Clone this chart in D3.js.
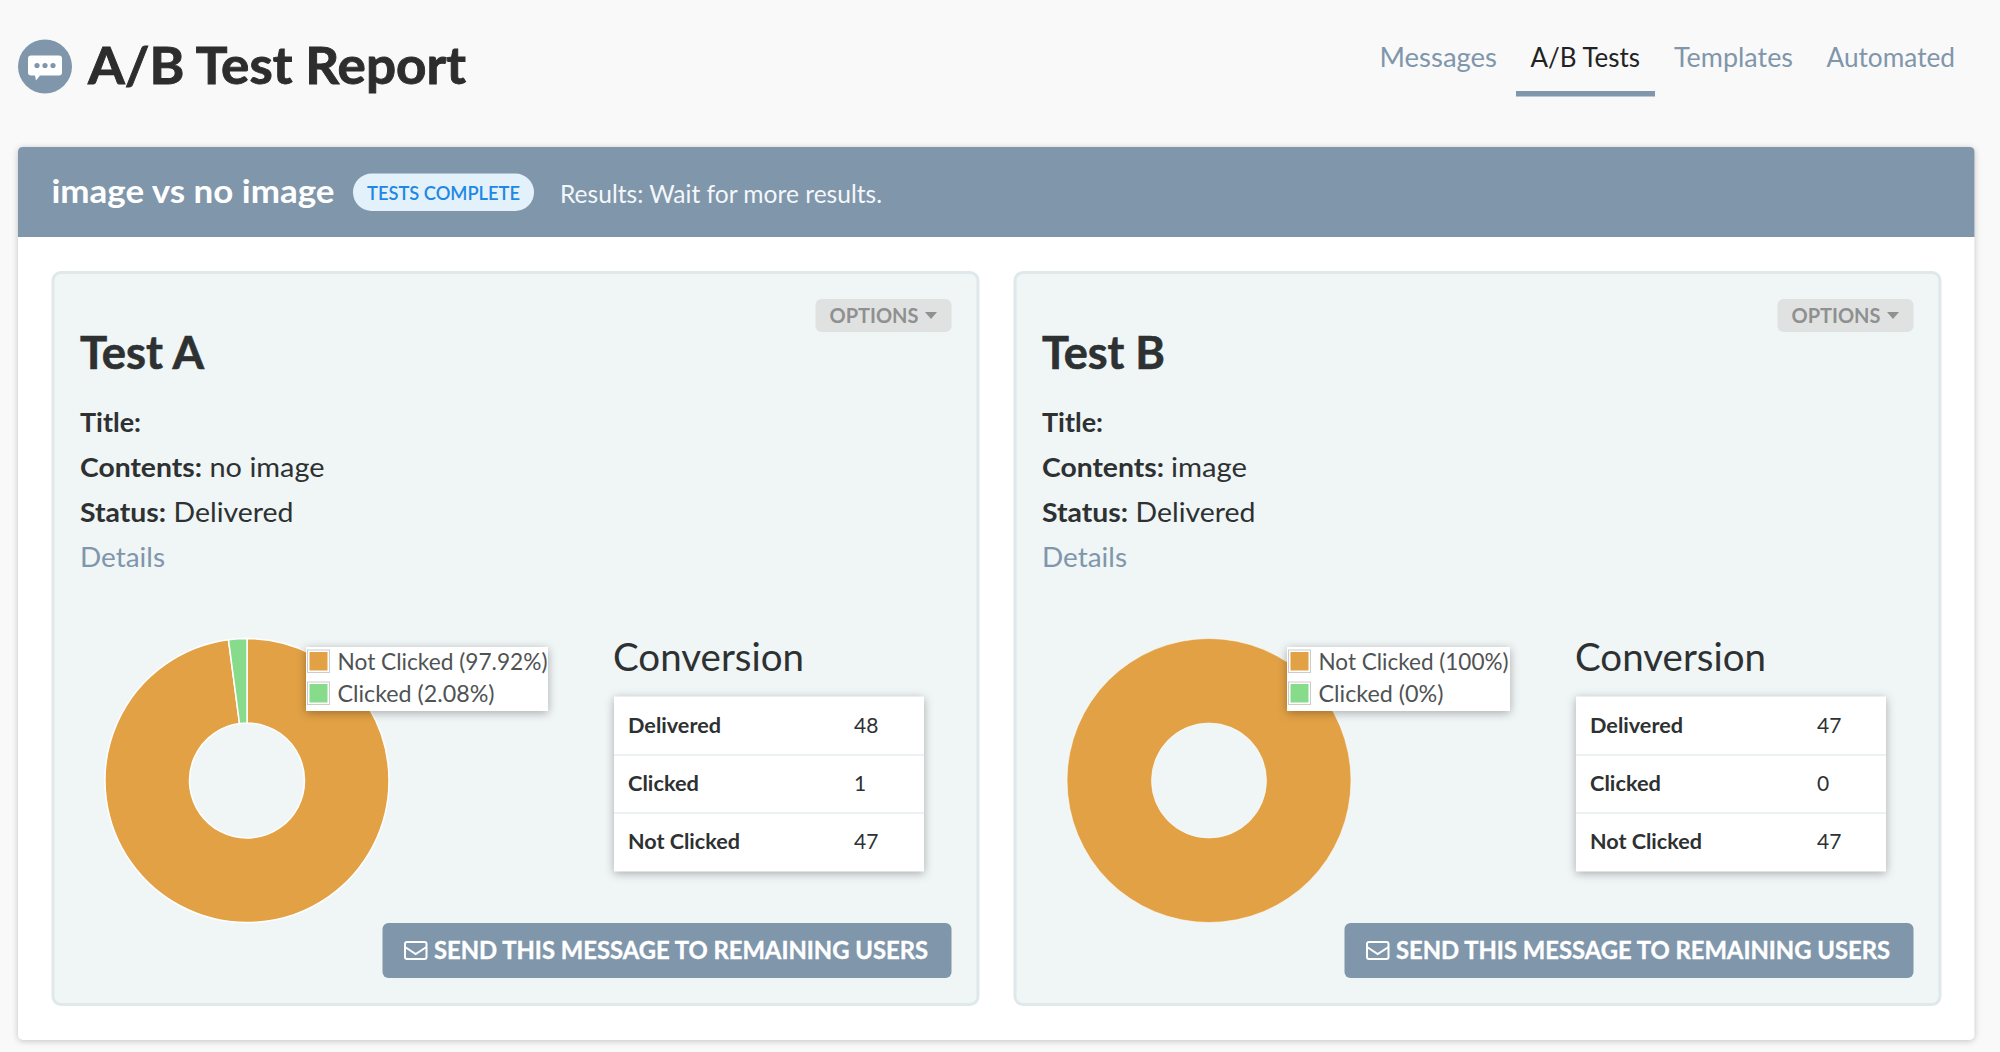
<!DOCTYPE html>
<html>
<head>
<meta charset="utf-8">
<title>A/B Test Report</title>
<script src="https://cdnjs.cloudflare.com/ajax/libs/d3/7.8.5/d3.min.js"></script>
<style>
  html, body { margin: 0; padding: 0; background: #f9f9f9; overflow: hidden; }
  svg { display: block; font-family: Lato, "Open Sans", sans-serif; }
  .lifted { filter: drop-shadow(0 1px 3px rgba(0,0,0,0.22)); }
  .lifted-big { filter: drop-shadow(0 2px 5px rgba(0,0,0,0.3)); }
</style>
</head>
<body>
<svg id="chart" width="2000" height="1052"></svg>
<script>
var navItems = ["Messages", "A/B Tests", "Templates", "Automated"];
var activeNav = "A/B Tests";
var testNames = ["Test A", "Test B"];
var testContents = ["no image", "image"];
var testStatus = ["Delivered", "Delivered"];
var sliceLabels = ["Not Clicked", "Clicked"];
var sliceColors = ["#e2a145", "#86dc8b"];
var notClicked = [47, 47];
var clicked = [1, 0];
var delivered = [48, 47];
var rowLabels = ["Delivered", "Clicked", "Not Clicked"];

var steel = "#7f96ab";
var dark = "#2e3132";
var svg = d3.select("#chart");

// text helper, fit is optional width in px
function put(g, str, x, y, size, weight, fill, fit, anchor) {
  var t = g.append("text")
    .attr("x", x).attr("y", y)
    .attr("font-size", size)
    .attr("font-weight", weight)
    .attr("fill", fill)
    .attr("text-anchor", anchor || "start")
    .text(str);
  if (fit) {
    t.attr("textLength", fit).attr("lengthAdjust", "spacingAndGlyphs");
  }
  return t;
}

// page header
function drawHeader() {
  var icon = svg.append("g").attr("transform", "translate(45,66.5)");
  icon.append("circle").attr("r", 27).attr("fill", steel);
  icon.append("path")
    .attr("d", "M-14,-11 H14 Q17,-11 17,-8 V6 Q17,9 14,9 H-5 L-9,14 L-10,9 H-14 Q-17,9 -17,6 V-8 Q-17,-11 -14,-11 Z")
    .attr("fill", "#fff");
  icon.selectAll("circle.dot").data([-8, 0, 8]).enter().append("circle")
    .attr("class", "dot").attr("cx", function(d){ return d; }).attr("cy", -1).attr("r", 2.6)
    .attr("fill", steel);

  put(svg, "A/B Test Report", 88, 84, 51, 700, "#2d2d2d", 378)
    .attr("stroke", "#2d2d2d").attr("stroke-width", 0.9);

  var navX = [1379.5, 1530.5, 1674, 1826.5];
  var navW = [117.5, 109.5, 119, 128.5];
  navItems.forEach(function(d, i) {
    put(svg, d, navX[i], 67, 27, 400, d === activeNav ? "#222" : steel, navW[i]);
  });
  svg.append("rect").attr("x", 1516).attr("y", 91).attr("width", 139).attr("height", 5.5).attr("fill", steel);
}

function drawPanel() {
  svg.append("rect").attr("class", "lifted")
    .attr("x", 18).attr("y", 147).attr("width", 1956.5).attr("height", 893)
    .attr("rx", 5).attr("fill", "#fff");
  svg.append("path")
    .attr("d", "M18,237 V152 Q18,147 23,147 H1969.5 Q1974.5,147 1974.5,152 V237 Z")
    .attr("fill", steel);
  put(svg, "image vs no image", 51.5, 202.5, 33, 700, "#fff", 283);
  svg.append("rect").attr("x", 353).attr("y", 173.5).attr("width", 181).attr("height", 37.5)
    .attr("rx", 18.7).attr("fill", "#e3f1fb");
  put(svg, "TESTS COMPLETE", 367, 199.5, 19, 600, "#1e88e5", 153);
  put(svg, "Results: Wait for more results.", 560, 202.5, 25, 400, "#f4f7fa", 322);
}

// one test card, i = 0 or 1
function drawCard(i) {
  var g = svg.append("g").attr("transform", "translate(" + (i * 962) + ",0)");

  g.append("rect").attr("x", 53).attr("y", 272.5).attr("width", 925).attr("height", 732)
    .attr("rx", 8).attr("fill", "#f0f5f6").attr("stroke", "#dfe8ea").attr("stroke-width", 3);

  // options
  g.append("rect").attr("x", 815.5).attr("y", 299).attr("width", 136).attr("height", 33)
    .attr("rx", 6).attr("fill", "#e0e2e2");
  put(g, "OPTIONS", 829.5, 323, 20, 700, "#8f9090", 89);
  g.append("path").attr("d", "M925,312 H937 L931,319 Z").attr("fill", "#8f9090");

  // description
  put(g, testNames[i], 80, 369, 45, 700, dark, i ? 123 : 124)
    .attr("stroke", dark).attr("stroke-width", 0.6);
  put(g, "Title:", 80, 432, 27, 700, dark, 61);
  put(g, "Contents:", 80, 477, 27, 700, dark, 122);
  put(g, testContents[i], i ? 209 : 209.5, 477, 27, 400, dark, i ? 76 : 115);
  put(g, "Status:", 80, 522, 27, 700, dark, 86);
  put(g, testStatus[i], 173.5, 522, 27, 400, dark, 120);
  put(g, "Details", 80, 567, 27, 400, steel, 85);

  drawDonut(g, i);
  drawTable(g, i);

  // send button
  g.append("rect").attr("x", 382.5).attr("y", 923).attr("width", 569).attr("height", 55)
    .attr("rx", 6).attr("fill", steel);
  var env = g.append("g").attr("fill", "none").attr("stroke", "#fff").attr("stroke-width", 2);
  env.append("rect").attr("x", 405).attr("y", 942).attr("width", 21.5).attr("height", 17).attr("rx", 2);
  env.append("path").attr("d", "M405,947 L415.7,954 L426.5,947");
  put(g, "SEND THIS MESSAGE TO REMAINING USERS", 434, 959, 24, 700, "#fff", 494)
    .attr("stroke", "#fff").attr("stroke-width", 0.4);
}

function drawDonut(g, i) {
  var values = [notClicked[i], clicked[i]];
  var total = d3.sum(values);
  var pie = d3.pie().sort(null);
  var arc = d3.arc().innerRadius(57.5).outerRadius(142);
  // a zero slice would leave a seam at the top
  var slices = pie(values).filter(function(d){ return d.value > 0; });

  g.append("g").attr("transform", "translate(247,780.5)")
    .selectAll("path").data(slices).enter().append("path")
    .attr("d", arc)
    .attr("fill", function(d){ return sliceColors[d.index]; })
    .attr("stroke", "#fff")
    .attr("stroke-width", slices.length > 1 ? 1.5 : 0.6);

  // legend is anchored on its right edge
  var w = i ? 223 : 242;
  var left = 548 - w;
  var leg = g.append("g");
  leg.append("rect").attr("class", "lifted-big")
    .attr("x", left).attr("y", 647).attr("width", w).attr("height", 64).attr("fill", "#fff");
  sliceLabels.forEach(function(d, k) {
    var y = 650 + k * 32;
    leg.append("rect").attr("x", left + 1.5).attr("y", y).attr("width", 22).attr("height", 22.5)
      .attr("fill", "#fff").attr("stroke", "#ccc").attr("stroke-width", 1);
    leg.append("rect").attr("x", left + 3.5).attr("y", y + 2).attr("width", 18).attr("height", 18.5)
      .attr("fill", sliceColors[k]);
    var pct = +(values[k] / total * 100).toFixed(2);
    var fits = i ? [190, 125] : [210, 157];
    put(leg, d + " (" + pct + "%)", left + 31.5, y + 20, 23, 400, "#4f5354", fits[k]);
  });
}

function drawTable(g, i) {
  var values = [delivered[i], clicked[i], notClicked[i]];
  put(g, "Conversion", 613, 671, 39, 400, dark, 191);

  var rows = d3.scaleBand().domain(rowLabels).range([697, 871]);
  g.append("rect").attr("class", "lifted-big")
    .attr("x", 614).attr("y", 696.5).attr("width", 310).attr("height", 175).attr("fill", "#fff");

  var row = g.selectAll("g.row").data(rowLabels).enter().append("g").attr("class", "row");
  row.filter(function(d, k){ return k > 0; }).append("line")
    .attr("x1", 614).attr("x2", 924)
    .attr("y1", function(d){ return rows(d); }).attr("y2", function(d){ return rows(d); })
    .attr("stroke", "#e6edee").attr("stroke-width", 1.5);
  var labelW = [93, 71, 112];
  row.each(function(d, k) {
    var r = d3.select(this);
    var y = rows(d) + rows.bandwidth() / 2 + 6.5;
    put(r, d, 628, y, 21, 700, dark, labelW[k]);
    put(r, values[k], 854 + (i ? 1 : 0), y, 21, 400, dark);
  });
}

drawHeader();
drawPanel();
drawCard(0);
drawCard(1);
</script>
</body>
</html>
